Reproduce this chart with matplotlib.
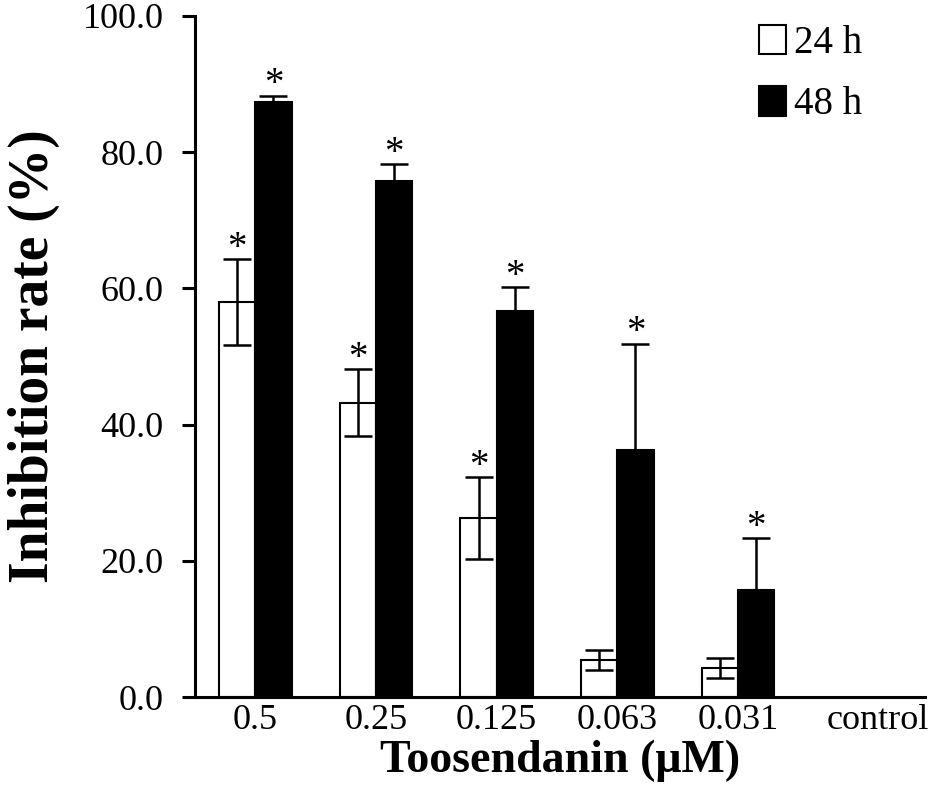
import numpy as np
import matplotlib
matplotlib.use("Agg")
import matplotlib.pyplot as plt
import matplotlib.transforms as mtransforms
from matplotlib.patches import Patch

categories = ["0.5", "0.25", "0.125", "0.063", "0.031", "control"]
h24_mean = [58.0, 43.2, 26.3, 5.4, 4.3, np.nan]
h24_err = [6.3, 4.9, 6.0, 1.5, 1.5, np.nan]
h48_mean = [87.4, 75.8, 56.7, 36.2, 15.7, np.nan]
h48_err = [0.9, 2.4, 3.5, 15.7, 7.6, np.nan]
h24_sig = [True, True, True, False, False, False]
h48_sig = [True, True, True, True, True, False]
yticks = [0, 20, 40, 60, 80, 100]

plt.rcParams['font.family'] = ['Liberation Serif', 'DejaVu Serif']

fig = plt.figure(figsize=(9.45, 7.91), dpi=100)
ax = fig.add_axes([195/945, 1 - 697/791, 730/945, 681/791])

x = np.arange(len(categories))
w = 0.30
ekw = dict(elinewidth=1.8, capthick=1.8)
ax.bar(x - w/2, h24_mean, w, color='white', edgecolor='black', linewidth=1.5,
       yerr=h24_err, capsize=10, error_kw=ekw, zorder=2)
ax.bar(x + w/2, h48_mean, w, color='black', edgecolor='black', linewidth=1.5,
       yerr=h48_err, capsize=10, error_kw=ekw, zorder=2)

for xi, m, e, s in zip(x - w/2, h24_mean, h24_err, h24_sig):
    if s:
        ax.annotate('*', (xi, m + e), xytext=(0, 1), textcoords='offset points',
                    ha='center', va='baseline', fontsize=28)
for xi, m, e, s in zip(x + w/2, h48_mean, h48_err, h48_sig):
    if s:
        ax.annotate('*', (xi, m + e), xytext=(0, 1), textcoords='offset points',
                    ha='center', va='baseline', fontsize=28)

ax.set_xlim(-0.5, 5.55)
ax.set_ylim(0, 100)
ax.set_yticks(yticks)
ax.set_yticklabels([f"{v:.1f}" for v in yticks], fontsize=26)
ax.set_xticks(x)
ax.set_xticklabels(categories, fontsize=26)
ax.tick_params(axis='x', length=0, pad=5)
ax.tick_params(axis='y', length=9.5, width=2.2, pad=13, direction='out')
# shift the "control" label slightly right as in reference
lab = ax.get_xticklabels()[-1]
lab.set_transform(lab.get_transform() + mtransforms.ScaledTranslation(19/100, 0, fig.dpi_scale_trans))

for s in ['top', 'right']:
    ax.spines[s].set_visible(False)
for s in ['left', 'bottom']:
    ax.spines[s].set_linewidth(2.2)

ax.set_xlabel("Toosendanin (μM)", fontsize=33, fontweight='bold')
ax.xaxis.set_label_coords(0.5, -0.062)
ax.xaxis.label.set_va('top')
ax.set_ylabel("Inhibition rate (%)", fontsize=40, fontweight='bold')
ax.yaxis.set_label_coords(-0.185, 0.5)

handles = [Patch(facecolor='white', edgecolor='black', linewidth=1.5),
           Patch(facecolor='black', edgecolor='black', linewidth=1.5)]
ax.legend(handles, ["24 h", "48 h"], loc='upper left',
          bbox_to_anchor=((759 - 195) / 730, 1 - 9 / 681), frameon=False,
          fontsize=28, handlelength=0.70, handleheight=0.78, handletextpad=0.2,
          labelspacing=0.62, borderpad=0, borderaxespad=0)

fig.savefig("out.png", dpi=100)
